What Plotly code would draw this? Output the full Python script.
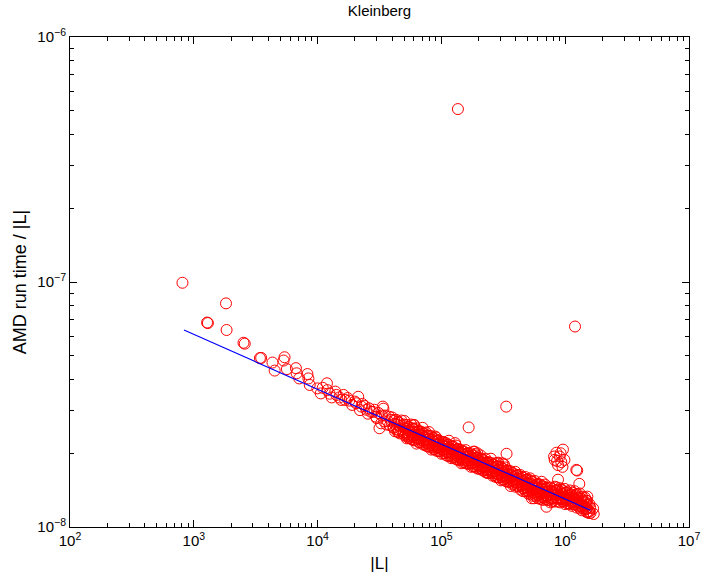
import plotly.graph_objects as go

# ---- data (|L| vs AMD run time / |L|) ----
# sparse left tail
sparse_L = [8.10e2, 1.82e3, 1.28e3, 1.30e3, 1.84e3, 2.52e3, 2.58e3, 3.42e3, 3.50e3, 4.32e3,
            5.41e3, 5.31e3, 4.50e3, 5.65e3, 6.68e3, 6.77e3, 7.11e3, 8.28e3, 8.43e3, 8.64e3,
            9.95e3, 1.19e4, 1.20e4, 1.06e4, 1.39e4, 1.42e4, 1.62e4, 1.67e4, 2.13e4, 2.00e4,
            2.26e4, 2.48e4, 2.88e4, 3.36e4, 2.97e4, 3.16e4, 3.26e4, 3.79e4, 3.91e4, 4.42e4,
            4.45e4, 3.40e4, 1.50e4, 1.80e4, 2.30e4, 2.60e4, 2.70e4, 3.10e4, 3.50e4, 3.70e4,
            1.10e4, 1.25e4, 1.30e4, 1.55e4, 1.75e4, 1.90e4, 2.05e4, 2.20e4, 2.40e4, 2.55e4,
            2.80e4, 3.00e4, 3.30e4, 3.45e4, 3.60e4, 3.85e4, 4.00e4, 4.10e4]
sparse_t = [9.93e-8, 8.18e-8, 6.83e-8, 6.80e-8, 6.37e-8, 5.65e-8, 5.60e-8, 4.89e-8, 4.90e-8, 4.69e-8,
            4.93e-8, 4.78e-8, 4.35e-8, 4.41e-8, 4.45e-8, 4.24e-8, 4.04e-8, 4.21e-8, 4.04e-8, 3.80e-8,
            3.68e-8, 3.86e-8, 3.62e-8, 3.51e-8, 3.57e-8, 3.46e-8, 3.46e-8, 3.30e-8, 3.40e-8, 3.25e-8,
            3.10e-8, 3.01e-8, 3.01e-8, 3.10e-8, 2.82e-8, 2.53e-8, 2.65e-8, 2.82e-8, 2.74e-8, 2.69e-8,
            2.45e-8, 3.04e-8, 3.38e-8, 3.28e-8, 3.18e-8, 3.05e-8, 2.95e-8, 2.92e-8, 2.85e-8, 2.70e-8,
            3.70e-8, 3.50e-8, 3.38e-8, 3.30e-8, 3.36e-8, 3.15e-8, 3.20e-8, 3.00e-8, 3.12e-8, 2.90e-8,
            2.95e-8, 2.78e-8, 2.85e-8, 2.70e-8, 2.62e-8, 2.60e-8, 2.80e-8, 2.55e-8]

# dense band, first pass
band_L = [
    4.30e4, 4.40e4, 4.35e4, 4.48e4,
    4.75e4, 4.85e4, 4.70e4, 4.92e4,
    5.20e4, 5.30e4, 5.15e4, 5.35e4, 5.25e4,
    5.70e4, 5.80e4, 5.65e4, 5.85e4, 5.75e4,
    6.25e4, 6.40e4, 6.20e4, 6.35e4, 6.30e4,
    6.85e4, 7.00e4, 6.80e4, 6.95e4, 7.05e4,
    7.50e4, 7.65e4, 7.45e4, 7.70e4, 7.60e4,
    8.25e4, 8.40e4, 8.20e4, 8.45e4, 8.30e4,
    9.05e4, 9.20e4, 9.00e4, 9.25e4, 9.10e4,
    9.90e4, 1.01e5, 9.80e4, 1.02e5, 1.00e5,
    1.09e5, 1.11e5, 1.08e5, 1.12e5, 1.10e5,
    1.19e5, 1.21e5, 1.18e5, 1.22e5, 1.20e5,
    1.31e5, 1.33e5, 1.30e5, 1.34e5, 1.32e5,
    1.44e5, 1.46e5, 1.43e5, 1.47e5, 1.45e5,
    1.57e5, 1.59e5, 1.56e5, 1.60e5, 1.58e5,
    1.72e5, 1.75e5, 1.71e5, 1.76e5, 1.74e5,
    1.89e5, 1.92e5, 1.88e5, 1.93e5, 1.91e5,
    2.07e5, 2.10e5, 2.06e5, 2.12e5, 2.09e5,
    2.27e5, 2.30e5, 2.25e5, 2.32e5, 2.29e5,
    2.49e5, 2.52e5, 2.47e5, 2.54e5, 2.51e5,
    2.73e5, 2.77e5, 2.71e5, 2.79e5, 2.75e5,
    3.00e5, 3.04e5, 2.98e5, 3.06e5, 3.02e5,
    3.28e5, 3.33e5, 3.26e5, 3.35e5, 3.31e5,
    3.60e5, 3.66e5, 3.58e5, 3.68e5, 3.63e5,
    3.95e5, 4.01e5, 3.92e5, 4.04e5, 3.98e5,
    4.33e5, 4.40e5, 4.30e5, 4.43e5, 4.37e5,
    4.75e5, 4.83e5, 4.72e5, 4.86e5, 4.79e5,
    5.21e5, 5.29e5, 5.17e5, 5.33e5, 5.25e5,
    5.70e5, 5.80e5, 5.66e5, 5.84e5, 5.75e5, 5.60e5,
    6.26e5, 6.36e5, 6.21e5, 6.41e5, 6.31e5,
    6.86e5, 6.98e5, 6.81e5, 7.03e5, 6.92e5,
    7.53e5, 7.65e5, 7.47e5, 7.71e5, 7.59e5,
    8.25e5, 8.39e5, 8.19e5, 8.45e5, 8.32e5,
    9.05e5, 9.20e5, 8.98e5, 9.27e5, 9.12e5,
    9.92e5, 1.01e6, 9.85e5, 1.02e6, 1.00e6,
    1.09e6, 1.11e6, 1.08e6, 1.12e6, 1.10e6,
    1.19e6, 1.21e6, 1.18e6, 1.22e6, 1.20e6,
    1.31e6, 1.33e6, 1.30e6, 1.34e6, 1.32e6,
    1.44e6, 1.46e6, 1.43e6, 1.47e6,
    1.57e6, 1.59e6, 1.56e6, 1.60e6,
    1.68e6, 1.70e6,
]
band_t = [
    2.74e-8, 2.62e-8, 2.50e-8, 2.44e-8,
    2.72e-8, 2.60e-8, 2.50e-8, 2.40e-8,
    2.61e-8, 2.52e-8, 2.44e-8, 2.35e-8, 2.30e-8,
    2.62e-8, 2.53e-8, 2.44e-8, 2.36e-8, 2.28e-8,
    2.53e-8, 2.45e-8, 2.37e-8, 2.29e-8, 2.19e-8,
    2.45e-8, 2.37e-8, 2.29e-8, 2.21e-8, 2.54e-8,
    2.43e-8, 2.35e-8, 2.27e-8, 2.19e-8, 2.14e-8,
    2.35e-8, 2.27e-8, 2.19e-8, 2.12e-8, 2.07e-8,
    2.32e-8, 2.25e-8, 2.17e-8, 2.12e-8, 2.05e-8,
    2.23e-8, 2.16e-8, 2.11e-8, 2.06e-8, 1.99e-8,
    2.20e-8, 2.13e-8, 2.07e-8, 2.01e-8, 1.96e-8,
    2.14e-8, 2.07e-8, 2.02e-8, 1.95e-8, 1.91e-8,
    2.15e-8, 2.07e-8, 2.00e-8, 1.96e-8, 1.89e-8,
    2.06e-8, 2.00e-8, 1.93e-8, 1.88e-8, 1.82e-8,
    2.06e-8, 1.99e-8, 1.93e-8, 1.87e-8, 1.82e-8,
    2.00e-8, 1.93e-8, 1.88e-8, 1.82e-8, 1.76e-8,
    1.98e-8, 1.91e-8, 1.85e-8, 1.80e-8, 1.75e-8,
    1.96e-8, 1.89e-8, 1.83e-8, 1.78e-8, 1.73e-8,
    1.90e-8, 1.83e-8, 1.77e-8, 1.71e-8, 1.67e-8,
    1.83e-8, 1.77e-8, 1.71e-8, 1.66e-8, 1.90e-8,
    1.82e-8, 1.76e-8, 1.70e-8, 1.65e-8, 1.60e-8,
    1.76e-8, 1.70e-8, 1.65e-8, 1.60e-8, 1.55e-8,
    1.75e-8, 1.69e-8, 1.63e-8, 1.58e-8, 1.54e-8,
    1.69e-8, 1.63e-8, 1.58e-8, 1.52e-8, 1.47e-8,
    1.68e-8, 1.62e-8, 1.56e-8, 1.51e-8, 1.46e-8,
    1.63e-8, 1.57e-8, 1.52e-8, 1.47e-8, 1.42e-8,
    1.60e-8, 1.55e-8, 1.50e-8, 1.45e-8, 1.40e-8,
    1.55e-8, 1.50e-8, 1.45e-8, 1.40e-8, 1.36e-8,
    1.54e-8, 1.49e-8, 1.44e-8, 1.39e-8, 1.34e-8, 1.31e-8,
    1.49e-8, 1.44e-8, 1.39e-8, 1.34e-8, 1.30e-8,
    1.49e-8, 1.44e-8, 1.39e-8, 1.35e-8, 1.30e-8,
    1.45e-8, 1.40e-8, 1.35e-8, 1.30e-8, 1.26e-8,
    1.46e-8, 1.41e-8, 1.36e-8, 1.31e-8, 1.27e-8,
    1.44e-8, 1.39e-8, 1.35e-8, 1.30e-8, 1.26e-8,
    1.43e-8, 1.38e-8, 1.33e-8, 1.29e-8, 1.24e-8,
    1.41e-8, 1.36e-8, 1.31e-8, 1.27e-8, 1.24e-8,
    1.40e-8, 1.35e-8, 1.31e-8, 1.26e-8, 1.24e-8,
    1.37e-8, 1.31e-8, 1.26e-8, 1.22e-8, 1.19e-8,
    1.32e-8, 1.26e-8, 1.21e-8, 1.18e-8,
    1.24e-8, 1.20e-8, 1.16e-8, 1.14e-8,
    1.19e-8, 1.13e-8,
]

# dense band, in-between pass
band2_L = [
    4.15e4, 4.20e4, 4.12e4, 4.22e4,
    4.55e4, 4.60e4, 4.52e4, 4.62e4,
    5.00e4, 5.05e4, 4.97e4, 5.08e4, 5.02e4,
    5.48e4, 5.53e4, 5.45e4, 5.56e4,
    6.00e4, 6.06e4, 5.97e4, 6.09e4, 6.03e4,
    6.58e4, 6.64e4, 6.55e4, 6.67e4,
    7.20e4, 7.28e4, 7.17e4, 7.31e4,
    7.90e4, 7.98e4, 7.86e4, 8.02e4, 7.94e4,
    8.66e4, 8.76e4, 8.62e4, 8.80e4,
    9.50e4, 9.60e4, 9.45e4, 9.65e4,
    1.04e5, 1.06e5, 1.035e5, 1.065e5,
    1.14e5, 1.16e5, 1.135e5, 1.165e5, 1.15e5,
    1.25e5, 1.27e5, 1.245e5, 1.275e5,
    1.37e5, 1.39e5, 1.365e5, 1.395e5,
    1.50e5, 1.52e5, 1.495e5, 1.525e5,
    1.65e5, 1.67e5, 1.645e5, 1.675e5,
    1.81e5, 1.83e5, 1.80e5, 1.84e5, 1.82e5,
    1.99e5, 2.01e5, 1.98e5, 2.02e5,
    2.18e5, 2.20e5, 2.17e5, 2.21e5,
    2.39e5, 2.41e5, 2.38e5, 2.42e5,
    2.61e5, 2.65e5, 2.60e5, 2.66e5,
    2.86e5, 2.90e5, 2.85e5, 2.91e5, 2.88e5,
    3.14e5, 3.18e5, 3.13e5, 3.19e5,
    3.45e5, 3.49e5, 3.43e5, 3.51e5,
    3.78e5, 3.82e5, 3.76e5, 3.84e5,
    4.14e5, 4.20e5, 4.12e5, 4.22e5,
    4.54e5, 4.60e5, 4.52e5, 4.62e5, 4.57e5,
    4.98e5, 5.04e5, 4.95e5, 5.07e5, 5.01e5,
    5.46e5, 5.54e5, 5.43e5, 5.57e5, 5.50e5,
    5.99e5, 6.07e5, 5.95e5, 6.11e5, 6.03e5,
    6.56e5, 6.66e5, 6.52e5, 6.70e5, 6.61e5,
    7.19e5, 7.29e5, 7.15e5, 7.33e5,
    7.88e5, 8.00e5, 7.84e5, 8.04e5,
    8.64e5, 8.78e5, 8.60e5, 8.82e5,
    9.48e5, 9.62e5, 9.43e5, 9.67e5,
    1.04e6, 1.06e6, 1.035e6, 1.065e6,
    1.14e6, 1.16e6, 1.135e6, 1.165e6,
    1.25e6, 1.27e6, 1.245e6, 1.275e6,
    1.37e6, 1.39e6, 1.365e6, 1.395e6,
    1.50e6, 1.52e6, 1.495e6, 1.525e6,
]
band2_t = [
    2.72e-8, 2.63e-8, 2.54e-8, 2.46e-8,
    2.67e-8, 2.58e-8, 2.49e-8, 2.41e-8,
    2.62e-8, 2.53e-8, 2.44e-8, 2.36e-8, 2.71e-8,
    2.56e-8, 2.48e-8, 2.39e-8, 2.31e-8,
    2.51e-8, 2.43e-8, 2.34e-8, 2.27e-8, 2.60e-8,
    2.46e-8, 2.38e-8, 2.30e-8, 2.22e-8,
    2.41e-8, 2.33e-8, 2.25e-8, 2.17e-8,
    2.36e-8, 2.28e-8, 2.20e-8, 2.13e-8, 2.44e-8,
    2.31e-8, 2.23e-8, 2.15e-8, 2.08e-8,
    2.26e-8, 2.18e-8, 2.11e-8, 2.04e-8,
    2.22e-8, 2.14e-8, 2.07e-8, 2.00e-8,
    2.17e-8, 2.10e-8, 2.02e-8, 1.96e-8, 2.25e-8,
    2.13e-8, 2.06e-8, 1.99e-8, 1.92e-8,
    2.08e-8, 2.01e-8, 1.94e-8, 1.88e-8,
    2.04e-8, 1.97e-8, 1.90e-8, 1.84e-8,
    2.00e-8, 1.94e-8, 1.87e-8, 1.81e-8,
    1.96e-8, 1.90e-8, 1.83e-8, 1.77e-8, 2.03e-8,
    1.92e-8, 1.86e-8, 1.79e-8, 1.73e-8,
    1.88e-8, 1.82e-8, 1.75e-8, 1.70e-8,
    1.84e-8, 1.78e-8, 1.72e-8, 1.66e-8,
    1.80e-8, 1.74e-8, 1.68e-8, 1.63e-8,
    1.77e-8, 1.71e-8, 1.65e-8, 1.59e-8, 1.83e-8,
    1.73e-8, 1.67e-8, 1.62e-8, 1.56e-8,
    1.70e-8, 1.64e-8, 1.58e-8, 1.53e-8,
    1.66e-8, 1.60e-8, 1.55e-8, 1.50e-8,
    1.63e-8, 1.57e-8, 1.52e-8, 1.47e-8,
    1.59e-8, 1.54e-8, 1.49e-8, 1.44e-8, 1.40e-8,
    1.56e-8, 1.50e-8, 1.45e-8, 1.40e-8, 1.37e-8,
    1.53e-8, 1.47e-8, 1.42e-8, 1.38e-8, 1.34e-8,
    1.50e-8, 1.44e-8, 1.40e-8, 1.35e-8, 1.31e-8,
    1.47e-8, 1.42e-8, 1.37e-8, 1.32e-8, 1.29e-8,
    1.45e-8, 1.39e-8, 1.34e-8, 1.29e-8,
    1.43e-8, 1.38e-8, 1.32e-8, 1.28e-8,
    1.42e-8, 1.37e-8, 1.32e-8, 1.27e-8,
    1.41e-8, 1.36e-8, 1.31e-8, 1.27e-8,
    1.39e-8, 1.34e-8, 1.30e-8, 1.25e-8,
    1.38e-8, 1.33e-8, 1.28e-8, 1.24e-8,
    1.36e-8, 1.31e-8, 1.27e-8, 1.22e-8,
    1.33e-8, 1.28e-8, 1.23e-8, 1.19e-8,
    1.28e-8, 1.23e-8, 1.19e-8, 1.15e-8,
]

# dense band, filling pass
band3_L = [
    5.37e4, 5.40e4, 5.34e4, 5.42e4,
    5.88e4, 5.92e4, 5.85e4, 5.95e4,
    6.46e4, 6.50e4, 6.43e4, 6.53e4,
    7.08e4, 7.12e4, 7.04e4, 7.15e4,
    7.76e4, 7.80e4, 7.72e4, 7.84e4,
    8.51e4, 8.56e4, 8.47e4, 8.60e4,
    9.33e4, 9.38e4, 9.28e4, 9.42e4,
    1.023e5, 1.028e5, 1.018e5, 1.033e5,
    1.12e5, 1.125e5, 1.115e5, 1.13e5,
    1.23e5, 1.235e5, 1.225e5, 1.24e5,
    1.35e5, 1.355e5, 1.345e5, 1.36e5,
    1.48e5, 1.485e5, 1.475e5, 1.49e5,
    1.62e5, 1.63e5, 1.615e5, 1.635e5,
    1.78e5, 1.79e5, 1.775e5, 1.795e5,
    1.95e5, 1.96e5, 1.945e5, 1.965e5,
    2.14e5, 2.15e5, 2.13e5, 2.16e5,
    2.34e5, 2.35e5, 2.33e5, 2.36e5,
    2.57e5, 2.58e5, 2.56e5, 2.59e5,
    2.81e5, 2.83e5, 2.80e5, 2.84e5,
    3.09e5, 3.11e5, 3.08e5, 3.12e5,
    3.39e5, 3.41e5, 3.37e5, 3.42e5,
    3.72e5, 3.74e5, 3.70e5, 3.75e5,
    4.07e5, 4.10e5, 4.05e5, 4.12e5,
    4.47e5, 4.50e5, 4.45e5, 4.52e5,
    4.90e5, 4.93e5, 4.88e5, 4.95e5,
    5.37e5, 5.40e5, 5.34e5, 5.43e5,
    5.88e5, 5.92e5, 5.85e5, 5.95e5,
    6.46e5, 6.50e5, 6.43e5, 6.53e5,
    7.08e5, 7.12e5, 7.04e5, 7.15e5,
    7.76e5, 7.80e5, 7.72e5, 7.84e5,
    8.51e5, 8.56e5, 8.47e5, 8.60e5,
    9.33e5, 9.38e5, 9.28e5, 9.42e5,
    1.023e6, 1.028e6, 1.018e6, 1.033e6,
    1.12e6, 1.125e6, 1.115e6, 1.13e6,
    1.23e6, 1.235e6, 1.225e6, 1.24e6,
    1.35e6, 1.355e6, 1.345e6, 1.36e6,
    1.48e6, 1.485e6, 1.475e6, 1.49e6,
]
band3_t = [
    2.56e-8, 2.48e-8, 2.39e-8, 2.31e-8,
    2.51e-8, 2.43e-8, 2.35e-8, 2.26e-8,
    2.46e-8, 2.38e-8, 2.30e-8, 2.22e-8,
    2.41e-8, 2.33e-8, 2.25e-8, 2.17e-8,
    2.36e-8, 2.28e-8, 2.20e-8, 2.13e-8,
    2.31e-8, 2.23e-8, 2.16e-8, 2.08e-8,
    2.26e-8, 2.18e-8, 2.11e-8, 2.04e-8,
    2.22e-8, 2.14e-8, 2.07e-8, 2.00e-8,
    2.17e-8, 2.09e-8, 2.02e-8, 1.95e-8,
    2.13e-8, 2.05e-8, 1.99e-8, 1.92e-8,
    2.08e-8, 2.02e-8, 1.95e-8, 1.88e-8,
    2.03e-8, 1.97e-8, 1.90e-8, 1.83e-8,
    2.00e-8, 1.94e-8, 1.87e-8, 1.81e-8,
    1.96e-8, 1.90e-8, 1.83e-8, 1.77e-8,
    1.92e-8, 1.86e-8, 1.80e-8, 1.73e-8,
    1.88e-8, 1.82e-8, 1.76e-8, 1.70e-8,
    1.84e-8, 1.78e-8, 1.72e-8, 1.66e-8,
    1.80e-8, 1.74e-8, 1.68e-8, 1.62e-8,
    1.77e-8, 1.71e-8, 1.65e-8, 1.60e-8,
    1.73e-8, 1.67e-8, 1.62e-8, 1.56e-8,
    1.70e-8, 1.64e-8, 1.59e-8, 1.53e-8,
    1.66e-8, 1.60e-8, 1.55e-8, 1.49e-8,
    1.63e-8, 1.57e-8, 1.52e-8, 1.47e-8,
    1.60e-8, 1.54e-8, 1.49e-8, 1.44e-8,
    1.56e-8, 1.50e-8, 1.45e-8, 1.40e-8,
    1.53e-8, 1.47e-8, 1.43e-8, 1.38e-8,
    1.49e-8, 1.45e-8, 1.40e-8, 1.35e-8,
    1.46e-8, 1.42e-8, 1.37e-8, 1.32e-8,
    1.43e-8, 1.39e-8, 1.34e-8, 1.29e-8,
    1.40e-8, 1.36e-8, 1.31e-8, 1.27e-8,
    1.45e-8, 1.40e-8, 1.35e-8, 1.31e-8,
    1.42e-8, 1.37e-8, 1.32e-8, 1.28e-8,
    1.38e-8, 1.34e-8, 1.29e-8, 1.25e-8,
    1.35e-8, 1.31e-8, 1.26e-8, 1.22e-8,
    1.33e-8, 1.29e-8, 1.24e-8, 1.20e-8,
    1.30e-8, 1.26e-8, 1.21e-8, 1.17e-8,
    1.28e-8, 1.23e-8, 1.19e-8, 1.15e-8,
]

# scattered points off the band
outlier_L = [1.36e5, 1.20e6, 3.34e5, 1.66e5, 3.36e5, 1.29e5, 1.85e5, 8.91e4, 2.83e5, 8.49e5,
             9.59e5, 9.02e5, 8.22e5, 9.86e5, 8.75e5, 9.50e5, 9.18e5, 8.13e5, 8.60e5, 9.30e5,
             1.23e6, 1.25e6, 8.75e5, 1.30e6, 6.46e5, 5.37e5, 7.06e5, 1.56e6, 1.51e6, 6.00e4,
             1.95e5, 3.10e5, 3.20e5, 5.20e5]
outlier_t = [5.08e-7, 6.58e-8, 3.10e-8, 2.55e-8, 1.99e-8, 2.20e-8, 2.03e-8, 2.34e-8, 1.82e-8, 2.01e-8,
             2.07e-8, 1.94e-8, 1.88e-8, 1.88e-8, 1.79e-8, 1.76e-8, 2.00e-8, 1.94e-8, 1.86e-8, 1.84e-8,
             1.71e-8, 1.70e-8, 1.56e-8, 1.50e-8, 1.53e-8, 1.31e-8, 1.21e-8, 1.14e-8, 1.33e-8, 2.61e-8,
             2.00e-8, 1.82e-8, 1.80e-8, 1.58e-8]

# fitted power-law line
fit_L = [8.33e2, 1.60e6]
fit_t = [6.37e-8, 1.17e-8]

x_tick_vals = [1e2, 1e3, 1e4, 1e5, 1e6, 1e7]
x_tick_text = ["10<sup>2</sup>", "10<sup>3</sup>", "10<sup>4</sup>", "10<sup>5</sup>",
               "10<sup>6</sup>", "10<sup>7</sup>"]
y_tick_vals = [1e-8, 1e-7, 1e-6]
y_tick_text = ["10<sup>\u22128</sup>", "10<sup>\u22127</sup>", "10<sup>\u22126</sup>"]

FONT = "Liberation Sans, Arial, Helvetica, sans-serif"

fig = go.Figure()
fig.add_trace(go.Scatter(
    x=sparse_L + band_L + band2_L + band3_L + outlier_L,
    y=sparse_t + band_t + band2_t + band3_t + outlier_t,
    mode="markers",
    marker=dict(symbol="circle-open", size=11, color="#ff0000", line=dict(width=1, color="#ff0000")),
    showlegend=False, hoverinfo="x+y",
))
fig.add_trace(go.Scatter(
    x=fit_L, y=fit_t, mode="lines",
    line=dict(color="#0000ff", width=1.2),
    showlegend=False,
))

axis_common = dict(
    type="log", showgrid=False, zeroline=False,
    showline=True, linecolor="black", linewidth=1, mirror="allticks",
    ticks="inside", ticklen=7, tickwidth=1, tickcolor="black",
    tickfont=dict(family=FONT, size=15, color="black"),
    tickmode="array",
    minor=dict(ticks="inside", ticklen=4, tickwidth=1, tickcolor="black",
               dtick="D1", showgrid=False),
)

fig.update_layout(
    width=712, height=582,
    margin=dict(l=70, r=12, t=37, b=55),
    paper_bgcolor="white", plot_bgcolor="white",
    font=dict(family=FONT, color="black"),
    title=dict(text="Kleinberg", font=dict(family=FONT, size=15, color="black"),
               x=0.5, xref="paper", xanchor="center",
               y=1 - 11 / 582, yref="container", yanchor="middle"),
    xaxis=dict(axis_common, range=[2, 7], tickvals=x_tick_vals, ticktext=x_tick_text,
               title=dict(text="|L|", font=dict(family=FONT, size=17), standoff=9)),
    yaxis=dict(axis_common, range=[-8, -6], tickvals=y_tick_vals, ticktext=y_tick_text,
               title=dict(text="AMD run time / |L|", font=dict(family=FONT, size=18), standoff=6)),
)

fig.write_html(
    "out.html", config={"displayModeBar": False},
    post_script=(
        "document.body.style.margin='0';"
        "document.documentElement.style.overflow='hidden';"
        "document.body.style.overflow='hidden';"
        "var gd=document.getElementById('{plot_id}');"
        "gd.style.overflow='hidden';"
        "if(gd.parentElement){gd.parentElement.style.overflow='hidden';"
        "gd.parentElement.style.width='712px';gd.parentElement.style.height='582px';}"
        "document.querySelectorAll('.main-svg').forEach(function(s){s.style.overflow='hidden';});"
    ),
)
